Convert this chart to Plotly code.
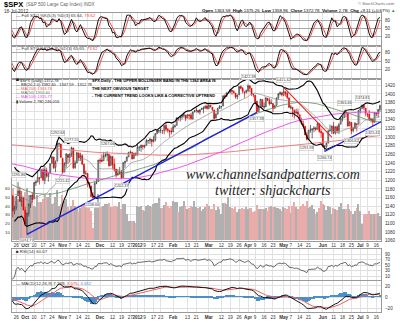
import pandas as pd
import numpy as np
import plotly.graph_objects as go

FONT = "Liberation Sans, Arial, sans-serif"
W, H = 400, 323

# ---- trading sessions 19-Sep-2011 .. 18-Jul-2012 ----
holidays = {"2011-11-24", "2011-12-26", "2012-01-02", "2012-01-16",
            "2012-02-20", "2012-04-06", "2012-05-28", "2012-07-04"}
sessions = [d.strftime("%Y-%m-%d") for d in pd.bdate_range("2011-09-19", "2012-07-18")
            if d.strftime("%Y-%m-%d") not in holidays]
pos = {d: i for i, d in enumerate(sessions)}

# ---- daily OHLC (S&P 500) and volume (x100M shares) ----
open_ = (
    [1214, 1204, 1203, 1164, 1128, 1137, 1164, 1176, 1152, 1160] +
    [1131, 1097, 1124, 1144, 1166, 1158, 1194, 1196, 1206, 1206, 1224, 1200, 1223, 1208, 1216, 1239, 1254, 1230, 1244, 1284, 1284] +
    [1251, 1219, 1238, 1260, 1253, 1261, 1275, 1229, 1240, 1263, 1251, 1257, 1237, 1216, 1216, 1193, 1187, 1162, 1159, 1193, 1197] +
    [1247, 1247, 1245, 1257, 1258, 1260, 1234, 1255, 1237, 1226, 1212, 1216, 1219, 1206, 1241, 1244, 1254, 1265, 1265, 1250, 1263] +
    [1258, 1277, 1276, 1281, 1278, 1281, 1292, 1292, 1295, 1290, 1294, 1308, 1314, 1316, 1315, 1315, 1327, 1318, 1316, 1314] +
    [1312, 1324, 1327, 1344, 1344, 1347, 1350, 1351, 1344, 1352, 1351, 1342, 1359, 1362, 1362, 1358, 1364, 1365, 1368, 1372] +
    [1366, 1374, 1369, 1363, 1344, 1353, 1366, 1371, 1372, 1396, 1394, 1403, 1404, 1409, 1406, 1402, 1393, 1398, 1417, 1413, 1405, 1404] +
    [1408, 1419, 1413, 1399, 1397, 1383, 1359, 1369, 1387, 1371, 1370, 1390, 1385, 1377, 1378, 1367, 1373, 1391, 1400, 1403] +
    [1398, 1405, 1402, 1391, 1368, 1369, 1363, 1355, 1358, 1352, 1338, 1331, 1325, 1305, 1295, 1316, 1316, 1319, 1321, 1318, 1331, 1313] +
    [1310, 1278, 1278, 1286, 1316, 1314, 1326, 1309, 1324, 1315, 1330, 1342, 1345, 1358, 1356, 1326, 1334, 1315, 1320, 1331, 1330] +
    [1362, 1366, 1374, 1367, 1354, 1353, 1341, 1341, 1334, 1356, 1354, 1363.58]
)
high = (
    [1214, 1220.39, 1206, 1164, 1141, 1163, 1195.86, 1185, 1175, 1160] +
    [1139, 1125, 1147, 1165, 1172, 1195, 1200, 1221, 1207, 1224.6, 1228, 1233, 1229, 1219, 1239, 1256, 1254, 1246, 1292.66, 1287, 1284] +
    [1251, 1242, 1263, 1260, 1262, 1277.55, 1275, 1246, 1266, 1264, 1264, 1260, 1238, 1223, 1216, 1196, 1187, 1172, 1197, 1204, 1247] +
    [1251, 1260, 1266, 1266, 1267.06, 1260, 1258, 1255, 1250, 1226, 1226, 1231, 1224, 1242, 1245, 1255, 1265, 1269, 1266, 1263, 1264] +
    [1285, 1278, 1283, 1281, 1282, 1296, 1293, 1297, 1295, 1303, 1309, 1315, 1316, 1322, 1316, 1328, 1333, 1321, 1316, 1322] +
    [1330, 1329, 1345, 1345, 1349, 1351, 1357, 1351, 1353, 1352, 1356, 1359, 1363, 1368, 1362, 1364, 1368, 1371, 1373, 1379] +
    [1377, 1375, 1369, 1363, 1355, 1368, 1374, 1372, 1396, 1399, 1403, 1405, 1410, 1409, 1408, 1402, 1399, 1416, 1420, 1416, 1405, 1410] +
    [1422.38, 1419, 1413, 1401, 1397, 1384, 1375, 1388, 1387, 1380, 1392, 1390, 1391, 1388, 1378, 1375, 1391, 1402, 1406, 1403] +
    [1415.32, 1405, 1404, 1391, 1374, 1369, 1363, 1366, 1366, 1352, 1345, 1338, 1326, 1312, 1316, 1328, 1320, 1325, 1324, 1334, 1331, 1319] +
    [1310, 1282, 1287, 1315, 1329, 1326, 1335, 1324, 1327, 1333, 1343, 1349, 1363.46, 1362, 1358, 1337, 1334, 1324, 1335, 1331, 1362] +
    [1367, 1374.81, 1374, 1367, 1354, 1363, 1345, 1341, 1358, 1357, 1365, 1375.26]
)
low = (
    [1188, 1201, 1166, 1114.22, 1121, 1131, 1164, 1150, 1139, 1131] +
    [1099, 1074.77, 1116, 1136, 1149, 1158, 1187, 1196, 1190, 1205, 1198, 1191, 1206, 1197, 1216, 1239, 1226, 1219, 1244, 1277, 1253] +
    [1215.42, 1219, 1229, 1238, 1241, 1254, 1226, 1227, 1240, 1245, 1245, 1236, 1209, 1212, 1184, 1181, 1162, 1158.66, 1159, 1191, 1197] +
    [1239, 1243, 1245, 1253, 1244, 1231, 1234, 1227, 1220, 1206, 1212, 1215, 1202.37, 1206, 1229, 1244, 1254, 1262, 1248, 1250, 1257] +
    [1258, 1268, 1266, 1271, 1274, 1281, 1285, 1284, 1278, 1288, 1290, 1308, 1309, 1309, 1307, 1307, 1313, 1310, 1300, 1306] +
    [1312, 1322, 1327, 1338, 1336, 1341, 1345, 1337, 1344, 1341, 1340, 1341, 1357, 1357, 1355, 1352, 1363, 1355, 1365, 1364] +
    [1366, 1369, 1360, 1341, 1344, 1353, 1366, 1366, 1372, 1389, 1394, 1401, 1401, 1398, 1401, 1389, 1387, 1398, 1411, 1401, 1391, 1401] +
    [1404, 1404, 1395, 1392, 1378, 1357.38, 1359, 1368, 1370, 1365, 1370, 1383, 1373, 1377, 1358, 1366, 1373, 1387, 1397, 1394] +
    [1395, 1394, 1388, 1368, 1365, 1347, 1343, 1355, 1349, 1336, 1328, 1323, 1305, 1291.98, 1295, 1310, 1297, 1311, 1314, 1318, 1310, 1299] +
    [1277, 1266.74, 1275, 1286, 1313, 1307, 1307, 1306, 1309, 1307, 1330, 1336, 1345, 1346, 1324, 1326, 1306.62, 1311, 1320, 1313, 1330] +
    [1355, 1366, 1363, 1348, 1346, 1338, 1334, 1325.41, 1334, 1349, 1345, 1358.96]
)
close = (
    [1204, 1202, 1167, 1130, 1136, 1163, 1175, 1151, 1160, 1131] +
    [1099, 1124, 1144, 1165, 1155, 1195, 1196, 1207, 1204, 1225, 1201, 1225, 1210, 1215, 1238, 1254, 1229, 1242, 1285, 1285, 1253] +
    [1218, 1238, 1261, 1253, 1261, 1276, 1229, 1240, 1264, 1252, 1258, 1237, 1216, 1216, 1193, 1188, 1162, 1159, 1193, 1195, 1247] +
    [1245, 1244, 1257, 1258, 1261, 1234, 1255, 1236, 1226, 1212, 1216, 1220, 1205, 1241, 1244, 1254, 1265, 1265, 1250, 1263, 1258] +
    [1277, 1277, 1281, 1278, 1281, 1292, 1292, 1296, 1289, 1294, 1308, 1315, 1315, 1316, 1315, 1326, 1318, 1316, 1313, 1312] +
    [1324, 1326, 1345, 1344, 1347, 1350, 1352, 1343, 1352, 1350, 1343, 1358, 1361, 1362, 1358, 1363, 1366, 1368, 1372, 1366] +
    [1374, 1370, 1364, 1343, 1353, 1366, 1371, 1371, 1396, 1394, 1403, 1404, 1410, 1406, 1403, 1393, 1397, 1417, 1413, 1406, 1403, 1408] +
    [1419, 1413, 1399, 1398, 1382, 1359, 1369, 1388, 1370, 1370, 1391, 1385, 1377, 1379, 1367, 1372, 1391, 1400, 1403, 1398] +
    [1406, 1402, 1392, 1369, 1370, 1364, 1355, 1358, 1353, 1338, 1331, 1325, 1305, 1295, 1316, 1317, 1319, 1321, 1318, 1332, 1313, 1310] +
    [1278, 1278, 1286, 1315, 1315, 1326, 1309, 1324, 1315, 1329, 1343, 1345, 1358, 1356, 1326, 1335, 1314, 1320, 1332, 1329, 1362] +
    [1366, 1374, 1368, 1355, 1352, 1341, 1341, 1335, 1357, 1354, 1364, 1372.78]
)
volume = (
    [40, 42, 44, 60, 50, 45, 48, 44, 48, 46] +
    [56, 60, 52, 48, 45, 40, 38, 52, 44, 44, 48, 52, 50, 50, 55, 42, 43, 50, 58, 40, 42] +
    [52, 45, 48, 38, 35, 40, 47, 40, 36, 33, 37, 40, 42, 40, 42, 38, 34, 14, 37, 38, 54] +
    [39, 38, 40, 42, 42, 43, 38, 38, 40, 40, 38, 44, 36, 42, 42, 30, 23, 22, 23, 22, 20] +
    [40, 38, 40, 35, 34, 40, 41, 40, 39, 42, 43, 43, 49, 37, 37, 41, 44, 40, 37, 40] +
    [46, 44, 44, 33, 38, 40, 45, 40, 36, 37, 40, 38, 45, 39, 37, 38, 34, 36, 38, 42] +
    [40, 36, 36, 42, 35, 38, 36, 31, 43, 43, 42, 50, 38, 37, 36, 38, 33, 36, 36, 37, 36, 38] +
    [36, 37, 37, 33, 34, 41, 36, 36, 36, 36, 37, 34, 39, 40, 39, 38, 37, 37, 36, 34] +
    [38, 37, 36, 40, 32, 40, 44, 38, 36, 38, 40, 42, 40, 46, 37, 39, 41, 36, 30, 33, 37, 45] +
    [42, 41, 35, 40, 39, 31, 37, 36, 35, 39, 43, 36, 36, 36, 42, 36, 34, 31, 34, 37, 42] +
    [34, 19, 29, 30, 30, 34, 31, 31, 30, 30, 32, 27.8]
)

# ---- moving averages, sampled weekly ----
ma_dates = ["2011-09-19", "2011-09-26", "2011-10-03", "2011-10-10", "2011-10-17", "2011-10-24", "2011-10-31",
            "2011-11-07", "2011-11-14", "2011-11-21", "2011-11-28", "2011-12-05", "2011-12-12", "2011-12-19",
            "2011-12-27", "2012-01-03", "2012-01-09", "2012-01-17", "2012-01-23", "2012-01-30", "2012-02-06",
            "2012-02-13", "2012-02-21", "2012-02-27", "2012-03-05", "2012-03-12", "2012-03-19", "2012-03-26",
            "2012-04-02", "2012-04-09", "2012-04-16", "2012-04-23", "2012-04-30", "2012-05-07", "2012-05-14",
            "2012-05-21", "2012-05-29", "2012-06-04", "2012-06-11", "2012-06-18", "2012-06-25", "2012-07-02",
            "2012-07-09", "2012-07-16", "2012-07-18"]
ma200 = [1283, 1281, 1279, 1277, 1275, 1273, 1272, 1270, 1268, 1266, 1265, 1264, 1263, 1262, 1261, 1260,
         1259, 1259, 1258, 1258, 1258, 1259, 1260, 1261, 1263, 1264, 1266, 1268, 1270, 1272, 1274, 1276,
         1278, 1280, 1282, 1284, 1286, 1288, 1290, 1293, 1295, 1298, 1300, 1302, 1303.76]
ma100 = [1240, 1236, 1232, 1226, 1220, 1215, 1212, 1209, 1206, 1204, 1203, 1203, 1203, 1203, 1204, 1206,
         1209, 1213, 1218, 1223, 1229, 1236, 1243, 1250, 1258, 1266, 1276, 1285, 1294, 1302, 1310, 1318,
         1326, 1333, 1339, 1343, 1347, 1350, 1353, 1355, 1357, 1358, 1358, 1356, 1355.77]
ma50 = [1195, 1185, 1177, 1170, 1168, 1168, 1172, 1178, 1185, 1192, 1197, 1203, 1210, 1215, 1220, 1225,
        1230, 1236, 1243, 1251, 1260, 1270, 1280, 1293, 1303, 1313, 1323, 1334, 1345, 1353, 1361, 1368,
        1374, 1378, 1381, 1380, 1377, 1372, 1366, 1360, 1353, 1346, 1340, 1336, 1335]

# ---- date axis ----
tick_dates = ["2011-09-26", "2011-10-03", "2011-10-10", "2011-10-17", "2011-10-24", "2011-11-01", "2011-11-07",
              "2011-11-14", "2011-11-21", "2011-12-01", "2011-12-12", "2011-12-19", "2011-12-27", "2012-01-03",
              "2012-01-09", "2012-01-17", "2012-01-23", "2012-02-01", "2012-02-13", "2012-02-21", "2012-03-01",
              "2012-03-12", "2012-03-19", "2012-03-26", "2012-04-02", "2012-04-09", "2012-04-16", "2012-04-23",
              "2012-05-01", "2012-05-07", "2012-05-14", "2012-05-21", "2012-06-01", "2012-06-11", "2012-06-18",
              "2012-06-25", "2012-07-02", "2012-07-09", "2012-07-16"]
tick_text = ["26", "<b>Oct</b>", "10", "17", "24", "<b>Nov</b>", "7", "14", "21", "<b>Dec</b>", "12", "19", "27",
             "<b>2012</b>", "9", "17", "23", "<b>Feb</b>", "13", "21", "<b>Mar</b>", "12", "19", "26", "<b>Apr</b>",
             "9", "16", "23", "<b>May</b>", "7", "14", "21", "<b>Jun</b>", "11", "18", "25", "<b>Jul</b>", "9", "16"]

# swing highs / lows carrying a value tag
tagged = [("2011-09-27", "H"), ("2011-10-04", "L"), ("2011-10-27", "H"), ("2011-11-01", "L"),
          ("2011-11-08", "H"), ("2011-11-25", "L"), ("2011-12-07", "H"), ("2011-12-19", "L"),
          ("2012-04-02", "H"), ("2012-04-10", "L"), ("2012-05-01", "H"), ("2012-05-18", "L"),
          ("2012-06-04", "L"), ("2012-06-19", "H"), ("2012-06-25", "L"), ("2012-07-03", "H"),
          ("2012-07-12", "L")]

# ---------------------------------------------------------------
n = len(sessions)
xi = np.arange(n)
o, hi, lo, c = (pd.Series(v, dtype=float) for v in (open_, high, low, close))
prev = c.shift(1).fillna(o)
down = (c < prev).values

# Bollinger Bands (20, 2)
mid = c.rolling(20, min_periods=5).mean()
sd = c.rolling(20, min_periods=5).std(ddof=0)
bb_up, bb_lo = mid + 2 * sd, mid - 2 * sd


# Full stochastics
def full_sto(k):
    hh = hi.rolling(k, min_periods=1).max()
    ll = lo.rolling(k, min_periods=1).min()
    fast = 100 * (c - ll) / (hh - ll)
    slow = fast.rolling(3, min_periods=1).mean()
    return slow, slow.rolling(3, min_periods=1).mean()


k5, d5 = full_sto(5)
k14, d14 = full_sto(14)

# RSI(14), Wilder smoothing
delta = c.diff().fillna(0)
au = delta.clip(lower=0).ewm(alpha=1 / 14, adjust=False).mean()
ad = (-delta.clip(upper=0)).ewm(alpha=1 / 14, adjust=False).mean()
rsi = 100 - 100 / (1 + au / ad.replace(0, np.nan))

# MACD(12,26,9)
macd = c.ewm(span=12, adjust=False).mean() - c.ewm(span=26, adjust=False).mean()
sig = macd.ewm(span=9, adjust=False).mean()
hist = macd - sig

# ---------------------------------------------------------------
X0, X1 = 2.6, n - 1 + 0.6
PL, PR = 12, 381  # plot edges (px)


def dom(top, bot):
    return [1 - bot / H, 1 - top / H]


PANELS = {"sto5": (13.5, 46), "sto14": (46, 80), "price": (80, 243), "rsi": (251, 283), "macd": (284, 315)}

fig = go.Figure()

# volume (base of the price panel, drawn underneath)
fig.add_trace(go.Bar(x=xi, y=volume, xaxis="x3", yaxis="y3", width=0.8,
                     marker=dict(color=["#eaabab" if d else "#b0b0b0" for d in down], line=dict(width=0))))

# overlays
fig.add_trace(go.Scatter(x=[pos[d] for d in ma_dates], y=ma200, xaxis="x3", yaxis="y4", mode="lines",
                         line=dict(color="#f07f7f", width=1)))
fig.add_trace(go.Scatter(x=[pos[d] for d in ma_dates], y=ma100, xaxis="x3", yaxis="y4", mode="lines",
                         line=dict(color="#ee55ee", width=1)))
fig.add_trace(go.Scatter(x=[pos[d] for d in ma_dates], y=ma50, xaxis="x3", yaxis="y4", mode="lines",
                         line=dict(color="#5f8f5f", width=0.8)))
fig.add_trace(go.Scatter(x=xi, y=mid, xaxis="x3", yaxis="y4", mode="lines", line=dict(color="#8c8c8c", width=0.7)))
for band in (bb_up, bb_lo):
    fig.add_trace(go.Scatter(x=xi, y=band, xaxis="x3", yaxis="y4", mode="lines",
                             line=dict(color="#000000", width=1.1)))

# candles: red when closing lower than the prior session, black otherwise
for mask, col in ((down, "#e00000"), (~down, "#333333")):
    sel = np.where(mask)[0]
    fig.add_trace(go.Candlestick(
        x=sel, open=o[sel], high=hi[sel], low=lo[sel], close=c[sel], xaxis="x3", yaxis="y4",
        increasing=dict(line=dict(color=col, width=0.7), fillcolor="white"),
        decreasing=dict(line=dict(color=col, width=0.7), fillcolor=col),
        whiskerwidth=0, hoverinfo="skip"))

# stochastics
fig.add_trace(go.Scatter(x=xi, y=d5, xaxis="x", yaxis="y", mode="lines", line=dict(color="#f05050", width=1)))
fig.add_trace(go.Scatter(x=xi, y=k5, xaxis="x", yaxis="y", mode="lines", line=dict(color="#111111", width=1)))
fig.add_trace(go.Scatter(x=xi, y=d14, xaxis="x2", yaxis="y2", mode="lines", line=dict(color="#f05050", width=1)))
fig.add_trace(go.Scatter(x=xi, y=k14, xaxis="x2", yaxis="y2", mode="lines", line=dict(color="#111111", width=1)))

# RSI
fig.add_trace(go.Scatter(x=xi, y=rsi, xaxis="x4", yaxis="y5", mode="lines", line=dict(color="#444444", width=0.8)))

# MACD
fig.add_trace(go.Bar(x=xi, y=hist, xaxis="x5", yaxis="y6", width=1.0,
                     marker=dict(color="#4a8fcc", line=dict(width=0))))
fig.add_trace(go.Scatter(x=xi, y=sig, xaxis="x5", yaxis="y6", mode="lines", line=dict(color="#f06060", width=1)))
fig.add_trace(go.Scatter(x=xi, y=macd, xaxis="x5", yaxis="y6", mode="lines", line=dict(color="#111111", width=1)))

# ---- axes ----
xcommon = dict(range=[X0, X1], domain=[PL / W, PR / W], tickvals=[pos[d] for d in tick_dates],
               ticktext=tick_text, tickangle=0, showgrid=True, gridcolor="#e2e2e2", gridwidth=1, zeroline=False,
               showline=True, linecolor="#9a9a9a", linewidth=1, mirror=True, ticks="",
               tickfont=dict(size=4.6, color="#333333", family=FONT), ticklabelstandoff=0,
               fixedrange=True)
layout_axes = {}
for k, show in enumerate((False, False, True, False, True), 1):
    ax = dict(xcommon, showticklabels=show, anchor="y%d" % (k if k < 4 else k + 1))
    if k == 3:
        ax["rangeslider"] = dict(visible=False)
    layout_axes["xaxis" if k == 1 else "xaxis%d" % k] = ax

ycommon = dict(side="right", zeroline=False, showline=True, linecolor="#9a9a9a", mirror=True, ticks="",
               tickfont=dict(size=4.6, color="#333333", family=FONT), ticklabelstandoff=2, fixedrange=True)
layout_axes["yaxis"] = dict(ycommon, domain=dom(*PANELS["sto5"]), range=[-15, 105], tickvals=[20, 50, 80],
                            gridcolor="#a8a8a8", anchor="x")
layout_axes["yaxis2"] = dict(ycommon, domain=dom(*PANELS["sto14"]), range=[-15, 105], tickvals=[20, 50, 80],
                             gridcolor="#a8a8a8", anchor="x2")
layout_axes["yaxis3"] = dict(domain=dom(*PANELS["price"]), range=[0, 186], side="left",
                             tickvals=[10, 20, 30, 40, 50, 60],
                             showgrid=False, zeroline=False, ticks="", showline=False, anchor="x3",
                             tickfont=dict(size=4.4, color="#333333", family=FONT), ticklabelstandoff=1)
layout_axes["yaxis4"] = dict(ycommon, overlaying="y3", range=[1060, 1434], tickvals=list(range(1060, 1421, 20)),
                             gridcolor="#e2e2e2", anchor="x3")
layout_axes["yaxis5"] = dict(ycommon, domain=dom(*PANELS["rsi"]), range=[-5, 110], tickvals=[10, 30, 50, 70, 90],
                             gridcolor="#dedede", anchor="x4")
layout_axes["yaxis6"] = dict(ycommon, domain=dom(*PANELS["macd"]), range=[-26, 28], tickvals=[-20, 0, 20],
                             gridcolor="#dedede", anchor="x5")

fig.update_layout(width=W, height=H, margin=dict(l=0, r=0, t=0, b=0), paper_bgcolor="white",
                  plot_bgcolor="white", showlegend=False, bargap=0, barmode="overlay", **layout_axes)


# ---- trend lines ----
def extend(d1, v1, d2, v2, i_end):
    i1, i2 = pos[d1], pos[d2]
    slope = (v2 - v1) / (i2 - i1)
    return i1, v1, i_end, v1 + slope * (i_end - i1)


i_oct4, i_apr10 = pos["2011-10-04"], pos["2012-04-10"]
fig.add_shape(type="line", xref="x3", yref="y4", x0=i_oct4, y0=low[i_oct4], x1=i_apr10, y1=low[i_apr10],
              line=dict(color="#1f1fe0", width=1.3))
a = extend("2012-06-04", low[pos["2012-06-04"]], "2012-07-12", low[pos["2012-07-12"]], n + 12)
fig.add_shape(type="line", xref="x3", yref="y4", x0=a[0], y0=a[1], x1=a[2], y1=a[3],
              line=dict(color="#1f1fe0", width=1.3))
b = extend("2012-05-01", high[pos["2012-05-01"]], "2012-05-29", high[pos["2012-05-29"]], pos["2012-06-08"])
fig.add_shape(type="line", xref="x3", yref="y4", x0=b[0], y0=b[1], x1=b[2], y1=b[3],
              line=dict(color="#ee2222", width=1.1))

# ---- value tags on swing points ----
for d, kind in tagged:
    i = pos[d]
    v = high[i] if kind == "H" else low[i]
    fig.add_annotation(x=i, y=v, xref="x3", yref="y4", text="%.2f" % v, showarrow=False,
                       yshift=4 if kind == "H" else -4, yanchor="bottom" if kind == "H" else "top",
                       font=dict(size=3.8, color="#333333", family=FONT), bgcolor="white",
                       bordercolor="#b5b5b5", borderwidth=0.5, borderpad=0.3)


# ---- text ----
def note(px, pyy, text, size=4.4, color="#000000", xanchor="left", family=FONT):
    fig.add_annotation(x=px / W, y=1 - pyy / H, xref="paper", yref="paper", text=text, showarrow=False,
                       xanchor=xanchor, yanchor="middle", font=dict(size=size, color=color, family=family))


note(2, 5, "<b>$SPX</b>", size=7.5)
note(24, 5, "(S&P 500 Large Cap Index) INDX", size=4.6, color="#666666")
note(2, 12, "18-Jul-2012", size=4.6, color="#333333")
note(397, 3.5, "© StockCharts.com", size=4.2, color="#666666", xanchor="right")
note(397, 10.5, "<b>Open</b> 1363.58  <b>High</b> 1375.26  <b>Low</b> 1358.96  <b>Close</b> 1372.78  "
                "<b>Volume</b> 2.7B  <b>Chg</b> +9.11 (+0.67%) <span style='color:#1a9a1a'>▲</span>",
     size=4.4, xanchor="right")

note(14, 15.5, "— Full STO %K(5,3) %D(3) 65.64, <span style='color:#f04040'>79.62</span>", size=4.4, color="#333333")
note(14, 48.5, "— Full STO %K(14,3) %D(3) 65.65, <span style='color:#f04040'>73.62</span>", size=4.4, color="#333333")

note(14, 81, "▀ $SPX (Daily) 1372.78", size=4.0, color="#222222")
note(14, 85.3, "— BB(20,2.0) 1382.40 - 1347.59 - 1312.78", size=4.0, color="#222222")
note(14, 89.5, "— MA(200) 1303.76", size=4.0, color="#f05050")
note(14, 93.7, "— MA(50) 1350.40", size=4.0, color="#4f7f4f")
note(14, 97.9, "— MA(100) 1355.77", size=4.0, color="#e040e0")
note(14, 102.1, "▮ Volume 2,780,246,016", size=4.0, color="#222222")

note(90, 81.5, "<b>SPX Daily - THE UPPER BOLLINGER BAND IN THE 1382 AREA IS</b>", size=4.0)
note(90, 89, "<b>THE NEXT OBVIOUS TARGET</b>", size=4.0)
note(90, 96.5, "<b>- THE CURRENT TREND LOOKS LIKE A CORRECTIVE UPTREND</b>", size=4.0)

note(273, 176, "<i>www.channelsandpatterns.com</i>", size=14, color="#1e1e1e",
     xanchor="center", family="Liberation Serif, serif")
note(273, 192.5, "<i>twitter: shjackcharts</i>", size=14, color="#1e1e1e",
     xanchor="center", family="Liberation Serif, serif")

note(14, 253.5, "■ RSI(14) 60.07", size=4.4, color="#333333")
note(14, 286.5, "— MACD(12,26,9) 7.229, <span style='color:#f04040'>3.576</span>, "
                "<span style='color:#4a8fcc'>3.652</span>", size=4.4, color="#333333")

fig.write_html("out.html")
